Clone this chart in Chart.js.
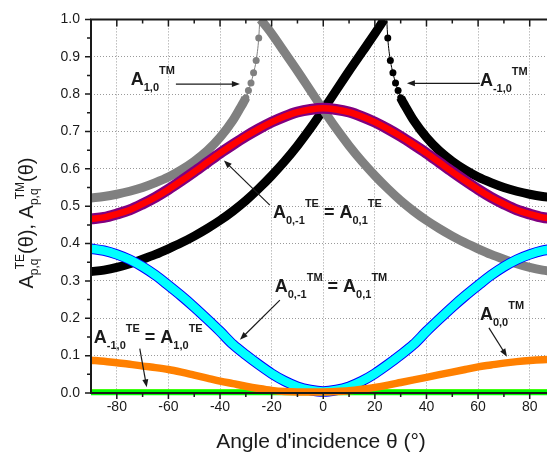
<!DOCTYPE html>
<html>
<head>
<meta charset="utf-8">
<script src="https://cdn.jsdelivr.net/npm/chart.js@4.4.0/dist/chart.umd.min.js"></script>
<style>
  html, body { margin: 0; padding: 0; background: #fff; }
</style>
</head>
<body>
<canvas id="lineChart" width="547" height="455"></canvas>
<script>
// angles of incidence (deg) used by the smooth curves
var angles = [-90, -85, -80, -75, -70, -65, -60, -55, -50, -45, -40, -35, -30, -25, -20, -15, -10, -5, 0,
              5, 10, 15, 20, 25, 30, 35, 40, 45, 50, 55, 60, 65, 70, 75, 80, 85, 90];

// A0,-1 TE = A0,1 TE (red / purple)
var te01 = [0.466, 0.470, 0.479, 0.490, 0.506, 0.524, 0.545, 0.568, 0.592, 0.617, 0.642, 0.665, 0.687, 0.707, 0.725, 0.740, 0.752, 0.759, 0.762,
            0.759, 0.752, 0.740, 0.725, 0.707, 0.687, 0.665, 0.642, 0.617, 0.592, 0.568, 0.545, 0.524, 0.506, 0.490, 0.479, 0.470, 0.466];
// A0,-1 TM = A0,1 TM (cyan / blue)
var tm01 = [0.386, 0.381, 0.371, 0.357, 0.338, 0.315, 0.288, 0.260, 0.230, 0.198, 0.165, 0.130, 0.102, 0.076, 0.052, 0.032, 0.017, 0.008, 0.004,
            0.008, 0.017, 0.032, 0.052, 0.076, 0.102, 0.130, 0.165, 0.198, 0.230, 0.260, 0.288, 0.315, 0.338, 0.357, 0.371, 0.381, 0.386];
// A0,0 TM (orange)
var tm00 = [0.088, 0.085, 0.081, 0.077, 0.072, 0.068, 0.063, 0.056, 0.048, 0.040, 0.032, 0.025, 0.018, 0.012, 0.007, 0.004, 0.003, 0.003, 0.003,
            0.004, 0.006, 0.010, 0.015, 0.021, 0.028, 0.035, 0.042, 0.049, 0.056, 0.063, 0.070, 0.075, 0.080, 0.084, 0.087, 0.089, 0.090];

// A-1,0 TE = A1,0 TE (yellow / green, flat)
var teEdgeX = [-90, 0, 90];
var teM10 = [0.006, 0.006, 0.006];
var te10 = [0.002, 0.002, 0.002];

// A1,0 TM (grey), two branches around the anomaly
var tm10LeftX = [-90, -85, -80, -75, -70, -65, -60, -55, -50, -45, -40, -35, -32, -31, -30, -29, -28, -27, -26, -25, -24.6];
var tm10Left  = [0.522, 0.526, 0.532, 0.540, 0.550, 0.563, 0.578, 0.597, 0.620, 0.648, 0.684, 0.730, 0.765, 0.777, 0.790, 0.810, 0.830, 0.857, 0.890, 0.950, 1.0];
var tm10RightX = [-24.3, -20, -15, -10, -5, 0, 5, 10, 15, 20, 25, 30, 35, 40, 45, 50, 55, 60, 65, 70, 75, 80, 85, 90];
var tm10Right  = [1.0, 0.962, 0.912, 0.862, 0.810, 0.758, 0.708, 0.662, 0.620, 0.582, 0.547, 0.515, 0.487, 0.462, 0.440, 0.420, 0.402, 0.386, 0.371, 0.358, 0.346, 0.336, 0.329, 0.325];

// A-1,0 TM (black)
var tmM10LeftX = [-90, -85, -80, -75, -70, -65, -60, -55, -50, -45, -40, -35, -30, -25, -20, -15, -10, -5, 0, 5, 10, 15, 20, 23.6];
var tmM10Left  = [0.325, 0.329, 0.336, 0.346, 0.358, 0.371, 0.386, 0.402, 0.420, 0.440, 0.462, 0.487, 0.515, 0.547, 0.582, 0.620, 0.662, 0.708, 0.758, 0.810, 0.862, 0.912, 0.962, 1.0];
var tmM10RightX = [24.6, 25, 26, 27, 28, 29, 30, 31, 32, 35, 40, 45, 50, 55, 60, 65, 70, 75, 80, 85, 90];
var tmM10Right  = [1.0, 0.950, 0.890, 0.857, 0.830, 0.810, 0.790, 0.777, 0.765, 0.730, 0.684, 0.648, 0.620, 0.597, 0.578, 0.563, 0.550, 0.540, 0.532, 0.526, 0.522];

var xTicks = [-80, -60, -40, -20, 0, 20, 40, 60, 80];
var yTicks = [0, 0.1, 0.2, 0.3, 0.4, 0.5, 0.6, 0.7, 0.8, 0.9, 1.0];

var FONT = '"Liberation Sans", Arial, Helvetica, sans-serif';
var INK = '#1a1a1a';

function band(label, xs, ys, color, width, order) {
    return {
        label: label,
        data: xs.map(function (x, i) { return { x: x, y: ys[i] }; }),
        borderColor: color,
        backgroundColor: color,
        borderWidth: width,
        pointRadius: 0,
        cubicInterpolationMode: 'monotone',
        borderCapStyle: 'butt',
        borderJoinStyle: 'round',
        clip: { left: 0, top: 0, right: 0, bottom: 4 },
        order: order
    };
}

// curve that turns into separate dots close to the Rayleigh anomaly
function branch(label, xs, ys, color, order) {
    var ds = band(label, xs, ys, color, 9, order);
    ds.segment = {
        borderWidth: function (ctx) {
            var a = Math.abs(xs[ctx.p0DataIndex]), b = Math.abs(xs[ctx.p1DataIndex]);
            return (a >= 30 && b >= 30) ? 9 : 1;
        }
    };
    ds.pointRadius = function (ctx) {
        var a = Math.abs(xs[ctx.dataIndex]);
        return (a >= 25 && a <= 30) ? 3.5 : 0;
    };
    ds.pointBorderWidth = 0;
    ds.pointBackgroundColor = color;
    return ds;
}

function run(c, x, y, tokens, weight) {
    tokens.forEach(function (tk) {
        c.font = weight + ' ' + tk[1] + 'px ' + FONT;
        c.fillText(tk[0], x, y + tk[2]);
        x += c.measureText(tk[0]).width;
    });
}

function arrow(c, x1, y1, x2, y2) {
    var ang = Math.atan2(y2 - y1, x2 - x1), L = 8, W = 3;
    c.beginPath();
    c.moveTo(x1, y1);
    c.lineTo(x2 - Math.cos(ang) * L * 0.8, y2 - Math.sin(ang) * L * 0.8);
    c.stroke();
    c.beginPath();
    c.moveTo(x2, y2);
    c.lineTo(x2 - Math.cos(ang) * L - Math.sin(ang) * W, y2 - Math.sin(ang) * L + Math.cos(ang) * W);
    c.lineTo(x2 - Math.cos(ang) * L + Math.sin(ang) * W, y2 - Math.sin(ang) * L - Math.cos(ang) * W);
    c.closePath();
    c.fill();
}

// labels: [x (deg), y (value), tokens]
var labels = [
    [-74.6, 0.824, [['A', 18, 0], ['1,0', 11, 6], ['TM', 11, -11]]],
    [60.7, 0.8215, [['A', 18, 0], ['-1,0', 11, 6], ['TM', 11, -11]]],
    [-19.5, 0.468, [['A', 18, 0], ['0,-1', 11, 6], ['TE', 11, -11], [' = ', 18, 0], ['A', 18, 0], ['0,1', 11, 6], ['TE', 11, -11]]],
    [-18.8, 0.2698, [['A', 18, 0], ['0,-1', 11, 6], ['TM', 11, -11], [' = ', 18, 0], ['A', 18, 0], ['0,1', 11, 6], ['TM', 11, -11]]],
    [-88.9, 0.1345, [['A', 18, 0], ['-1,0', 11, 6], ['TE', 11, -11], [' = ', 18, 0], ['A', 18, 0], ['1,0', 11, 6], ['TE', 11, -11]]],
    [60.7, 0.1955, [['A', 18, 0], ['0,0', 11, 6], ['TM', 11, -11]]]
];
// arrows: [x1, y1, x2, y2] in data units, head at the second point
var arrows = [
    [-57.1, 0.827, -32.3, 0.827],
    [60.7, 0.829, 32.4, 0.829],
    [-20.7, 0.503, -38.5, 0.6226],
    [-16.8, 0.2485, -32.3, 0.1424],
    [-71.1, 0.1186, -68.4, 0.0151],
    [64.2, 0.1743, 71.2, 0.0973]
];

var decor = {
    id: 'decor',
    afterDatasetsDraw: function (chart) {
        var c = chart.ctx, a = chart.chartArea, xs = chart.scales.x, ys = chart.scales.y;
        c.save();
        // frame
        c.strokeStyle = INK;
        c.lineWidth = 2;
        c.beginPath();
        c.moveTo(a.left, a.top); c.lineTo(a.right, a.top);
        c.moveTo(a.left, a.top - 1); c.lineTo(a.left, a.bottom + 1);
        c.moveTo(a.left - 1, a.bottom); c.lineTo(a.right, a.bottom);
        c.stroke();
        // tick marks
        c.lineWidth = 1.5;
        c.beginPath();
        for (var v = -80; v <= 80; v += 10) {
            var px = xs.getPixelForValue(v), major = (v % 20 === 0);
            c.moveTo(px, a.bottom); c.lineTo(px, a.bottom + (major ? 6 : 4));
            c.moveTo(px, a.top); c.lineTo(px, a.top + (major ? 7 : 4));
        }
        for (var k = 0; k <= 20; k++) {
            var py = ys.getPixelForValue(k * 0.05);
            c.moveTo(a.left, py); c.lineTo(a.left - (k % 2 === 0 ? 6 : 4), py);
        }
        c.stroke();
        c.restore();
    },
    afterDraw: function (chart) {
        var c = chart.ctx, xs = chart.scales.x, ys = chart.scales.y;
        c.save();
        c.fillStyle = INK;
        c.strokeStyle = INK;
        c.textAlign = 'left';
        c.textBaseline = 'alphabetic';
        labels.forEach(function (l) {
            run(c, xs.getPixelForValue(l[0]), ys.getPixelForValue(l[1]), l[2], 'bold');
        });
        c.lineWidth = 1.2;
        arrows.forEach(function (r) {
            arrow(c, xs.getPixelForValue(r[0]), ys.getPixelForValue(r[1]),
                  xs.getPixelForValue(r[2]), ys.getPixelForValue(r[3]));
        });
        // x title
        c.font = '21px ' + FONT;
        c.textAlign = 'center';
        c.fillText("Angle d'incidence \u03b8 (\u00b0)", 321, 448);
        // y title with sub/superscripts
        c.save();
        c.translate(33, 223);
        c.rotate(-Math.PI / 2);
        var parts = [['A', 20, 0, 0], ['p,q', 12, 5, 1], ['TE', 12, -9, 2], ['(\u03b8), ', 20, 0, 0],
                     ['A', 20, 0, 0], ['p,q', 12, 5, 1], ['TM', 12, -9, 2], ['(\u03b8)', 20, 0, 0]];
        var widths = parts.map(function (p) { c.font = p[1] + 'px ' + FONT; return c.measureText(p[0]).width; });
        var total = 0, i;
        for (i = 0; i < parts.length; i++) {
            if (parts[i][3] === 1) { total += Math.max(widths[i], widths[i] * 0.35 + widths[i + 1]); i++; }
            else total += widths[i];
        }
        var x = -total / 2;
        c.textAlign = 'left';
        for (i = 0; i < parts.length; i++) {
            var p = parts[i];
            c.font = p[1] + 'px ' + FONT;
            if (p[3] === 1) {
                var q = parts[i + 1];
                c.fillText(p[0], x, p[2]);
                c.font = q[1] + 'px ' + FONT;
                c.fillText(q[0], x + widths[i] * 0.35, q[2]);
                x += Math.max(widths[i], widths[i] * 0.35 + widths[i + 1]);
                i++;
            } else {
                c.fillText(p[0], x, p[2]);
                x += widths[i];
            }
        }
        c.restore();
        c.restore();
    }
};

var ctxL = document.getElementById('lineChart').getContext('2d');
var myLineChart = new Chart(ctxL, {
    type: 'line',
    data: {
        datasets: [
            band('A0,0 TM', angles, tm00, '#ff8000', 7.5, 1),
            band('A0,1 TM', angles, tm01, '#00ffff', 8.5, 2),
            band('A0,-1 TM', angles, tm01, '#0000ff', 10.5, 3),
            band('A0,1 TE', angles, te01, '#ff0000', 6.5, 4),
            band('A0,-1 TE', angles, te01, '#800080', 11, 5),
            band('A1,0 TM right', tm10RightX, tm10Right, '#808080', 9, 6),
            branch('A1,0 TM left', tm10LeftX, tm10Left, '#808080', 7),
            band('A-1,0 TM left', tmM10LeftX, tmM10Left, '#000000', 9, 8),
            branch('A-1,0 TM right', tmM10RightX, tmM10Right, '#000000', 9),
            band('A1,0 TE', teEdgeX, te10, '#00ff00', 6, 10),
            band('A-1,0 TE', teEdgeX, teM10, '#ffff00', 3, 11)
        ]
    },
    options: {
        responsive: false,
        animation: false,
        devicePixelRatio: 1,
        layout: { padding: { top: 16, right: 0, left: 0, bottom: 0 } },
        plugins: { legend: { display: false }, tooltip: { enabled: false } },
        scales: {
            x: {
                type: 'linear',
                min: -90,
                max: 86.7,
                afterBuildTicks: function (scale) { scale.ticks = xTicks.map(function (v) { return { value: v }; }); },
                afterFit: function (scale) { scale.height = 62; },
                grid: { color: '#9a9a9a', lineWidth: 1, drawTicks: false },
                border: { display: false, dash: [1, 2] },
                ticks: {
                    color: INK, padding: 6, maxRotation: 0, autoSkip: false,
                    font: { family: FONT, size: 14 },
                    callback: function (v) { return String(v); }
                }
            },
            y: {
                type: 'linear',
                min: 0,
                max: 1,
                afterBuildTicks: function (scale) { scale.ticks = yTicks.map(function (v) { return { value: v }; }); },
                afterFit: function (scale) { scale.width = 91; },
                grid: { color: '#9a9a9a', lineWidth: 1, drawTicks: false },
                border: { display: false, dash: [1, 2] },
                ticks: {
                    color: INK, padding: 11, autoSkip: false,
                    font: { family: FONT, size: 14 },
                    callback: function (v) { return v.toFixed(1); }
                }
            }
        }
    },
    plugins: [decor]
});
</script>
</body>
</html>
